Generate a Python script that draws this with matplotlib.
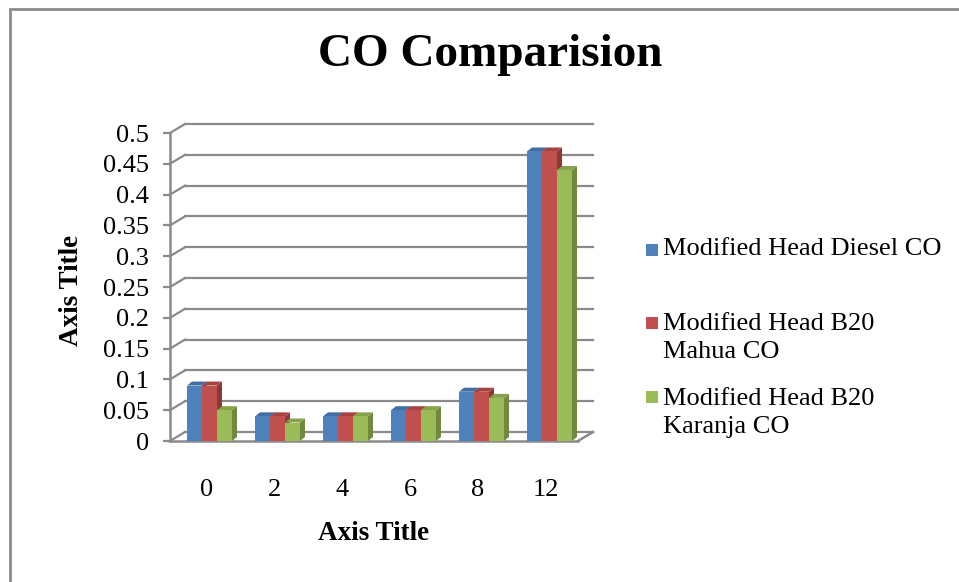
import numpy as np
import matplotlib
matplotlib.use("Agg")
import matplotlib.pyplot as plt
from matplotlib.patches import Polygon, Rectangle

# data
hours = ["0", "2", "4", "6", "8", "12"]
diesel = [0.09, 0.04, 0.04, 0.05, 0.08, 0.47]
mahua = [0.09, 0.04, 0.04, 0.05, 0.08, 0.47]
karanja = [0.05, 0.03, 0.04, 0.05, 0.07, 0.44]
series_names = ["Modified Head Diesel CO",
                "Modified Head B20\nMahua CO",
                "Modified Head B20\nKaranja CO"]
y_ticks = [0, 0.05, 0.1, 0.15, 0.2, 0.25, 0.3, 0.35, 0.4, 0.45, 0.5]
y_tick_labels = ["0", "0.05", "0.1", "0.15", "0.2", "0.25", "0.3",
                 "0.35", "0.4", "0.45", "0.5"]

# excel-like colours: front, side, top
front_cols = ["#4F81BD", "#C0504D", "#9BBB59"]
side_cols = ["#385D8A", "#8C3836", "#71893F"]
top_cols = ["#426EA4", "#A8423F", "#86A34B"]
grid_col = "#8A8A8A"

plt.rcParams["font.family"] = ["Liberation Serif", "DejaVu Serif"]

W, H = 959, 582
fig = plt.figure(figsize=(W / 100, H / 100), dpi=100)

def fx(px):
    return px / W

def fy(px):
    return 1 - px / H

# front plane of the plot: x 170..578 px, y 441 (0) .. 133 (0.5) px
ax = fig.add_axes([fx(170), fy(441), (578 - 170) / W, (441 - 133) / H])
x = np.arange(len(hours))
ax.set_xlim(-0.581, 5.419)
ax.set_ylim(0, 0.5)

def px2data(dx, dy):
    p0 = ax.transData.transform((0, 0))
    d = ax.transData.inverted().transform(p0 + np.array([dx, dy]))
    return d[0], d[1]

# depth of the back wall and of the columns
wdx, wdy = px2data(15, 9)
bdx, bdy = px2data(5, 4)
x0, x1 = ax.get_xlim()

# back wall gridlines and the diagonals to the front axis
for v in y_ticks:
    ax.plot([x0 + wdx, x1 + wdx], [v + wdy, v + wdy], color=grid_col,
            lw=1.6, zorder=1, clip_on=False)
    ax.plot([x0, x0 + wdx], [v, v + wdy], color=grid_col, lw=1.6,
            zorder=1, clip_on=False)
# floor edges
ax.plot([x0, x1], [0, 0], color=grid_col, lw=1.8, zorder=1, clip_on=False)
ax.plot([x1, x1 + wdx], [0, wdy], color=grid_col, lw=1.8, zorder=1,
        clip_on=False)

# columns
bw = 0.2206
values = [diesel, mahua, karanja]
for k, vals in enumerate(values):
    xs = x + (k - 1) * bw
    ax.bar(xs, vals, width=bw, color=front_cols[k], zorder=2.5 + k,
           linewidth=0)
    for xc, v in zip(xs, vals):
        l, r = xc - bw / 2, xc + bw / 2
        side = Polygon([(r, 0), (r + bdx, bdy), (r + bdx, v + bdy), (r, v)],
                       closed=True, facecolor=side_cols[k], lw=0,
                       zorder=2 + k)
        top = Polygon([(l, v), (l + bdx, v + bdy), (r + bdx, v + bdy), (r, v)],
                      closed=True, facecolor=top_cols[k], lw=0, zorder=2 + k)
        ax.add_patch(side)
        ax.add_patch(top)

# front axis
for s in ["top", "right", "bottom"]:
    ax.spines[s].set_visible(False)
ax.spines["left"].set_color(grid_col)
ax.spines["left"].set_linewidth(1.8)
ax.set_yticks(y_ticks)
ax.set_yticklabels(y_tick_labels)
ax.tick_params(axis="y", direction="out", length=5, width=1.6,
               color=grid_col, labelsize=19, pad=10)
ax.set_xticks(x - 0.05)
ax.set_xticklabels(hours)
ax.tick_params(axis="x", length=0, labelsize=19, pad=27)
ax.set_facecolor("none")

ax.set_xlabel("Axis Title", fontsize=19.5, fontweight="bold")
ax.xaxis.set_label_coords(0.5, (441 - 534) / (441 - 133))
ax.xaxis.label.set_va("center")
ax.set_ylabel("Axis Title", fontsize=19.5, fontweight="bold")
ax.yaxis.set_label_coords((71 - 170) / (578 - 170), (441 - 290) / (441 - 133))
ax.yaxis.label.set_va("center")

# title
fig.text(fx(490), fy(66), "CO Comparision", fontsize=34, fontweight="bold",
         ha="center", va="baseline")

# legend
leg_y = [249, 338, 413]
key_y = [250, 323, 397]
for k, name in enumerate(series_names):
    fig.patches.append(Rectangle((fx(646), fy(key_y[k] + 6)), 12 / W, 12 / H,
                                 transform=fig.transFigure,
                                 facecolor=front_cols[k], lw=0))
    fig.text(fx(663), fy(leg_y[k]), name, fontsize=19, ha="left",
             va="center", linespacing=1.4)

# chart border
fig.patches.append(Rectangle((fx(10), -0.1), 1.2, fy(9) + 0.1,
                             transform=fig.transFigure, fill=False,
                             edgecolor="#8C8C8C", lw=2))

fig.savefig("out.png", dpi=100)
